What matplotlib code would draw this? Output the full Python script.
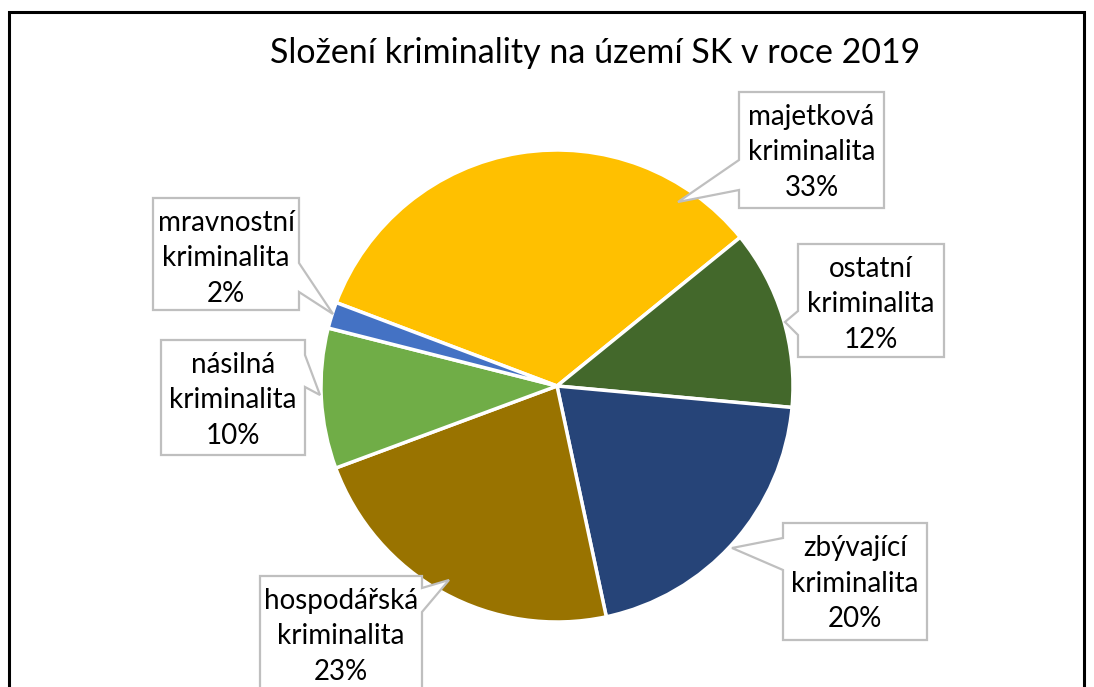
import matplotlib
matplotlib.use("Agg")
import matplotlib.pyplot as plt
from matplotlib.patches import Polygon

# data
categories = ["majetková kriminalita", "ostatní kriminalita", "zbývající kriminalita",
              "hospodářská kriminalita", "násilná kriminalita", "mravnostní kriminalita"]
shares = [33.4, 12.3, 20.2, 22.7, 9.6, 1.8]
colors = ["#FFC000", "#43682B", "#264478", "#997300", "#70AD47", "#4472C4"]
title = "Složení kriminality na území SK v roce 2019"

W, H = 1094, 687
fig = plt.figure(figsize=(W / 100, H / 100), dpi=100)
ax = fig.add_axes([0, 0, 1, 1])
ax.set_xlim(0, W)
ax.set_ylim(0, H)
ax.set_aspect("equal")
ax.axis("off")

def py(y):
    # pixel row -> data y
    return H - y

# chart frame (bottom cut off)
ax.plot([9, 9, 1084, 1084], [0, py(12), py(12), 0], color="black", lw=2.2,
        solid_joinstyle="miter", clip_on=False)

ax.pie(shares, colors=colors, center=(557, py(386)), radius=236,
       startangle=159.3, counterclock=False,
       wedgeprops=dict(edgecolor="white", linewidth=2.5))
ax.set_xlim(0, W)
ax.set_ylim(0, H)

ax.text(595, py(53), title, ha="center", va="center", fontsize=24.5,
        family="Lato", color="black")

# callout boxes: (x0, y0, x1, y1), edge, base points, tip  (pixels)
callouts = [
    ((739, 92, 884, 208), "left", (160, 190), (678, 202)),
    ((798, 244, 944, 357), "left", (311, 335), (785, 322)),
    ((783, 523, 927, 640), "left", (538, 570), (732, 548)),
    ((260, 576, 422, 700), "right", (588, 612), (449, 580)),
    ((161, 340, 305, 455), "right", (355, 387), (320, 395)),
    ((153, 198, 299, 310), "right", (263, 292), (333, 314)),
]

for (box, edge, base, tip), name, val in zip(callouts, categories, shares):
    x0, y0, x1, y1 = box
    if edge == "left":
        pts = [(x0, y0), (x1, y0), (x1, y1), (x0, y1),
               (x0, base[1]), tip, (x0, base[0])]
    else:
        pts = [(x0, y0), (x1, y0), (x1, base[0]), tip, (x1, base[1]),
               (x1, y1), (x0, y1)]
    pts = [(x, py(y)) for x, y in pts]
    ax.add_patch(Polygon(pts, closed=True, facecolor="white", edgecolor="#BFBFBF",
                         lw=1.6, zorder=5, clip_on=False))
    cx = (x0 + x1) / 2
    top = y0 + 25
    lines = name.split(" ") + ["%d%%" % round(val)]
    for i, t in enumerate(lines):
        ax.text(cx, py(top + i * 35.5), t, ha="center", va="center",
                fontsize=20, family="Lato", color="black", zorder=6)

fig.savefig("out.png", dpi=100)
